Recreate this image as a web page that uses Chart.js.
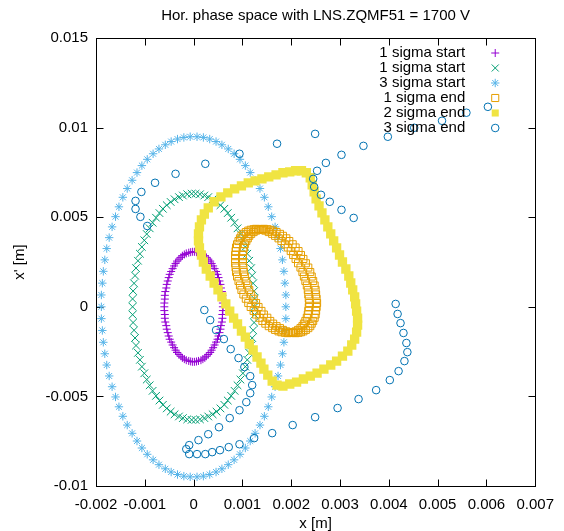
<!DOCTYPE html>
<html>
<head>
    <meta charset="utf-8">
    <title>Hor. phase space</title>
    <style>
        body { margin: 0; background: #fff; }
        #wrap { width: 564px; height: 531px; }
    </style>
</head>
<body>
    <div id="wrap"><canvas id="phaseChart" width="564" height="531"></canvas></div>
    <script src="https://cdn.jsdelivr.net/npm/chart.js"></script>
    <script>
        // start ellipses (x, x') for 1, 2 and 3 sigma
        const sigma1StartX = [0.0006, 0.0006, 0.00059, 0.00059, 0.00058, 0.00056, 0.00055, 0.00053, 0.00051, 0.00049, 0.00046, 0.00043, 0.0004, 0.00037, 0.00034, 0.0003, 0.00026, 0.00023, 0.00019, 0.00015, 0.0001, 0.00006, 0.00002,
            -0.00002, -0.00006, -0.0001, -0.00015, -0.00019, -0.00023, -0.00026, -0.0003, -0.00034, -0.00037, -0.0004, -0.00043, -0.00046, -0.00049, -0.00051, -0.00053, -0.00055, -0.00056, -0.00058, -0.00059, -0.00059, -0.0006,
            -0.0006,
            -0.0006, -0.00059, -0.00059, -0.00058, -0.00056, -0.00055, -0.00053, -0.00051, -0.00049, -0.00046, -0.00043, -0.0004, -0.00037, -0.00034, -0.0003, -0.00026, -0.00023, -0.00019, -0.00015, -0.0001, -0.00006, -0.00002,
            0.00002, 0.00006, 0.0001, 0.00015, 0.00019, 0.00023, 0.00026, 0.0003, 0.00034, 0.00037, 0.0004, 0.00043, 0.00046, 0.00049, 0.00051, 0.00053, 0.00055, 0.00056, 0.00058, 0.00059, 0.00059, 0.0006];
        const sigma1StartY = [0, 0.00021, 0.00043, 0.00064, 0.00085, 0.00105, 0.00125, 0.00144, 0.00163, 0.00181, 0.00197, 0.00213, 0.00228, 0.00242, 0.00255, 0.00266, 0.00276, 0.00285, 0.00292, 0.00298, 0.00302, 0.00305, 0.00307,
            0.00307, 0.00305, 0.00302, 0.00298, 0.00292, 0.00285, 0.00276, 0.00266, 0.00255, 0.00242, 0.00228, 0.00213, 0.00197, 0.00181, 0.00163, 0.00144, 0.00125, 0.00105, 0.00085, 0.00064, 0.00043, 0.00021,
            0,
            -0.00021, -0.00043, -0.00064, -0.00085, -0.00105, -0.00125, -0.00144, -0.00163, -0.00181, -0.00197, -0.00213, -0.00228, -0.00242, -0.00255, -0.00266, -0.00276, -0.00285, -0.00292, -0.00298, -0.00302, -0.00305, -0.00307,
            -0.00307, -0.00305, -0.00302, -0.00298, -0.00292, -0.00285, -0.00276, -0.00266, -0.00255, -0.00242, -0.00228, -0.00213, -0.00197, -0.00181, -0.00163, -0.00144, -0.00125, -0.00105, -0.00085, -0.00064, -0.00043, -0.00021];

        const sigma2StartX = [0.00125, 0.00125, 0.00124, 0.00122, 0.0012, 0.00118, 0.00114, 0.0011, 0.00106, 0.00101, 0.00096, 0.0009, 0.00084, 0.00077, 0.0007, 0.00063, 0.00055, 0.00047, 0.00039, 0.0003, 0.00022, 0.00013, 0.00004,
            -0.00004, -0.00013, -0.00022, -0.0003, -0.00039, -0.00047, -0.00055, -0.00063, -0.0007, -0.00077, -0.00084, -0.0009, -0.00096, -0.00101, -0.00106, -0.0011, -0.00114, -0.00118, -0.0012, -0.00122, -0.00124, -0.00125,
            -0.00125,
            -0.00125, -0.00124, -0.00122, -0.0012, -0.00118, -0.00114, -0.0011, -0.00106, -0.00101, -0.00096, -0.0009, -0.00084, -0.00077, -0.0007, -0.00063, -0.00055, -0.00047, -0.00039, -0.0003, -0.00022, -0.00013, -0.00004,
            0.00004, 0.00013, 0.00022, 0.0003, 0.00039, 0.00047, 0.00055, 0.00063, 0.0007, 0.00077, 0.00084, 0.0009, 0.00096, 0.00101, 0.00106, 0.0011, 0.00114, 0.00118, 0.0012, 0.00122, 0.00124, 0.00125];
        const sigma2StartY = [0, 0.00044, 0.00088, 0.00131, 0.00174, 0.00216, 0.00257, 0.00296, 0.00334, 0.00371, 0.00406, 0.00438, 0.00469, 0.00497, 0.00523, 0.00547, 0.00567, 0.00585, 0.006, 0.00612, 0.00621, 0.00628, 0.00631,
            0.00631, 0.00628, 0.00621, 0.00612, 0.006, 0.00585, 0.00567, 0.00547, 0.00523, 0.00497, 0.00469, 0.00438, 0.00406, 0.00371, 0.00334, 0.00296, 0.00257, 0.00216, 0.00174, 0.00131, 0.00088, 0.00044,
            0,
            -0.00044, -0.00088, -0.00131, -0.00174, -0.00216, -0.00257, -0.00296, -0.00334, -0.00371, -0.00406, -0.00438, -0.00469, -0.00497, -0.00523, -0.00547, -0.00567, -0.00585, -0.006, -0.00612, -0.00621, -0.00628, -0.00631,
            -0.00631, -0.00628, -0.00621, -0.00612, -0.006, -0.00585, -0.00567, -0.00547, -0.00523, -0.00497, -0.00469, -0.00438, -0.00406, -0.00371, -0.00334, -0.00296, -0.00257, -0.00216, -0.00174, -0.00131, -0.00088, -0.00044];

        const sigma3StartX = [0.00189, 0.00189, 0.00187, 0.00185, 0.00182, 0.00178, 0.00173, 0.00167, 0.0016, 0.00153, 0.00145, 0.00136, 0.00126, 0.00116, 0.00106, 0.00095, 0.00083, 0.00071, 0.00058, 0.00046, 0.00033, 0.0002, 0.00007,
            -0.00007, -0.0002, -0.00033, -0.00046, -0.00058, -0.00071, -0.00083, -0.00095, -0.00106, -0.00116, -0.00126, -0.00136, -0.00145, -0.00153, -0.0016, -0.00167, -0.00173, -0.00178, -0.00182, -0.00185, -0.00187, -0.00189,
            -0.00189,
            -0.00189, -0.00187, -0.00185, -0.00182, -0.00178, -0.00173, -0.00167, -0.0016, -0.00153, -0.00145, -0.00136, -0.00126, -0.00116, -0.00106, -0.00095, -0.00083, -0.00071, -0.00058, -0.00046, -0.00033, -0.0002, -0.00007,
            0.00007, 0.0002, 0.00033, 0.00046, 0.00058, 0.00071, 0.00083, 0.00095, 0.00106, 0.00116, 0.00126, 0.00136, 0.00145, 0.00153, 0.0016, 0.00167, 0.00173, 0.00178, 0.00182, 0.00185, 0.00187, 0.00189];
        const sigma3StartY = [0, 0.00066, 0.00132, 0.00198, 0.00262, 0.00325, 0.00386, 0.00446, 0.00503, 0.00558, 0.00611, 0.0066, 0.00706, 0.00749, 0.00788, 0.00823, 0.00854, 0.00881, 0.00904, 0.00922, 0.00936, 0.00945, 0.00949,
            0.00949, 0.00945, 0.00936, 0.00922, 0.00904, 0.00881, 0.00854, 0.00823, 0.00788, 0.00749, 0.00706, 0.0066, 0.00611, 0.00558, 0.00503, 0.00446, 0.00386, 0.00325, 0.00262, 0.00198, 0.00132, 0.00066,
            0,
            -0.00066, -0.00132, -0.00198, -0.00262, -0.00325, -0.00386, -0.00446, -0.00503, -0.00558, -0.00611, -0.0066, -0.00706, -0.00749, -0.00788, -0.00823, -0.00854, -0.00881, -0.00904, -0.00922, -0.00936, -0.00945, -0.00949,
            -0.00949, -0.00945, -0.00936, -0.00922, -0.00904, -0.00881, -0.00854, -0.00823, -0.00788, -0.00749, -0.00706, -0.0066, -0.00611, -0.00558, -0.00503, -0.00446, -0.00386, -0.00325, -0.00262, -0.00198, -0.00132, -0.00066];

        // end of the line, after LNS.ZQMF51
        // 1 sigma end is a band: two rings, slightly apart in x, same x'
        const sigma1EndXa = [0.00253, 0.00252, 0.00251, 0.0025, 0.00248, 0.00245, 0.00242, 0.00239, 0.00235, 0.0023, 0.00225, 0.0022, 0.00215, 0.00209, 0.00203, 0.00196, 0.0019, 0.00183, 0.00177,
            0.0017, 0.00163, 0.00157, 0.00151, 0.00144, 0.00139, 0.00133, 0.00128, 0.00123, 0.00118, 0.00114, 0.00111, 0.00108, 0.00105, 0.00103, 0.00102, 0.00101, 0.00101,
            0.00101, 0.00102, 0.00103, 0.00105, 0.00108, 0.00111, 0.00114, 0.00118, 0.00123, 0.00128, 0.00133, 0.00139, 0.00144, 0.00151, 0.00157, 0.00163, 0.0017, 0.00177,
            0.00183, 0.0019, 0.00196, 0.00203, 0.00209, 0.00215, 0.0022, 0.00225, 0.0023, 0.00235, 0.00239, 0.00242, 0.00245, 0.00248, 0.0025, 0.00251, 0.00252];
        const sigma1EndXb = [0.00237, 0.00236, 0.00235, 0.00234, 0.00232, 0.00229, 0.00226, 0.00223, 0.00219, 0.00214, 0.00209, 0.00204, 0.00199, 0.00193, 0.00187, 0.0018, 0.00174, 0.00167, 0.00161,
            0.00154, 0.00147, 0.00141, 0.00135, 0.00128, 0.00123, 0.00117, 0.00112, 0.00107, 0.00102, 0.00098, 0.00095, 0.00092, 0.00089, 0.00087, 0.00086, 0.00085, 0.00085,
            0.00085, 0.00086, 0.00087, 0.00089, 0.00092, 0.00095, 0.00098, 0.00102, 0.00107, 0.00112, 0.00117, 0.00123, 0.00128, 0.00135, 0.00141, 0.00147, 0.00154, 0.00161,
            0.00167, 0.00174, 0.0018, 0.00187, 0.00193, 0.00199, 0.00204, 0.00209, 0.00214, 0.00219, 0.00223, 0.00226, 0.00229, 0.00232, 0.00234, 0.00235, 0.00236];
        const sigma1EndY = [0.00021, 0.00045, 0.00069, 0.00094, 0.00119, 0.00144, 0.00169, 0.00194, 0.00219, 0.00243, 0.00267, 0.00289, 0.00311, 0.00331, 0.00349, 0.00367, 0.00382, 0.00396, 0.00407, 0.00417, 0.00425, 0.0043, 0.00433, 0.00435,
            0.00433, 0.0043, 0.00425, 0.00417, 0.00407, 0.00396, 0.00382, 0.00367, 0.00349, 0.00331, 0.00311, 0.00289, 0.00267, 0.00243, 0.00219, 0.00194, 0.00169, 0.00144,
            0.00119, 0.00094, 0.00069, 0.00045, 0.00021, -0.00001, -0.00023, -0.00043, -0.00061, -0.00079, -0.00094, -0.00108, -0.00119, -0.00129, -0.00137, -0.00142, -0.00145, -0.00147,
            -0.00145, -0.00142, -0.00137, -0.00129, -0.00119, -0.00108, -0.00094, -0.00079, -0.00061, -0.00043, -0.00023, -0.00001];

        const sigma2EndX = [0.0001, 0.00012, 0.00016, 0.00022, 0.0003, 0.00042, 0.00056, 0.0007, 0.00084, 0.00098, 0.00112, 0.00126, 0.0014, 0.00154, 0.00169, 0.00183, 0.00197, 0.00209, 0.00221, 0.00231,
            0.00239, 0.00243, 0.00247, 0.00251, 0.00257, 0.00263, 0.00269, 0.00275, 0.00281, 0.00287, 0.00293, 0.00299, 0.00305, 0.00312, 0.00318, 0.00322, 0.00326, 0.0033, 0.00332, 0.00334,
            0.00336, 0.00336, 0.00334, 0.0033, 0.00324, 0.00316, 0.00305, 0.00293, 0.00281, 0.00267, 0.00253, 0.00239, 0.00225, 0.00211, 0.00197, 0.00183, 0.00171, 0.00161, 0.00152, 0.00144,
            0.00138, 0.0013, 0.00122, 0.00114, 0.00106, 0.00098, 0.0009, 0.00082, 0.00074, 0.00066, 0.00058, 0.0005, 0.00042, 0.00034, 0.00026, 0.0002, 0.00016, 0.00012, 0.0001];
        const sigma2EndY = [0.00407, 0.00446, 0.00485, 0.00518, 0.00552, 0.00586, 0.00613, 0.00636, 0.00658, 0.00675, 0.00692, 0.00703, 0.00714, 0.00725, 0.00736, 0.00748, 0.00753, 0.00759, 0.00759, 0.00748,
            0.0072, 0.0068, 0.00641, 0.00602, 0.00563, 0.00524, 0.00485, 0.00446, 0.00407, 0.00368, 0.00329, 0.00289, 0.0025, 0.00211, 0.00172, 0.00133, 0.00094, 0.00055, 0.00016, -0.00024,
            -0.00063, -0.00102, -0.00141, -0.0018, -0.00213, -0.00247, -0.00275, -0.00303, -0.00325, -0.00348, -0.0037, -0.00387, -0.00403, -0.0042, -0.00431, -0.00443, -0.00437, -0.00415, -0.00381, -0.00348,
            -0.00314, -0.0028, -0.00241, -0.00208, -0.00169, -0.00135, -0.00096, -0.00063, -0.00024, 0.00016, 0.00055, 0.00094, 0.00133, 0.00172, 0.00211, 0.0025, 0.00289, 0.00329, 0.00368];

        const sigma3EndX = [-0.00095, -0.00109, -0.00119, -0.00119, -0.00107, -0.00079, -0.00037, 0.00024, 0.00094, 0.00171, 0.00249,
            0.00603, 0.00559, 0.00509, 0.00452, 0.00398, 0.00348, 0.00303, 0.00271, 0.00253, 0.00245, 0.00247, 0.00261, 0.00279, 0.00303, 0.00328,
            0.00414, 0.00418, 0.00424, 0.0043, 0.00436, 0.00438, 0.00432, 0.0042, 0.00402, 0.00374, 0.00338, 0.00295, 0.00249, 0.00203, 0.00161, 0.00124, 0.00094, 0.00072, 0.00054, 0.00038, 0.00024, 0.00007, -0.00009,
            -0.00015, -0.00009,
            0.0001, 0.0003, 0.00052, 0.00074, 0.00094, 0.00108, 0.00116, 0.0012, 0.00116, 0.00104, 0.00092, 0.00076, 0.00062, 0.00046, 0.00034, 0.00022];
        const sigma3EndY = [0.00451, 0.00502, 0.00546, 0.00591, 0.00641, 0.00692, 0.00742, 0.00798, 0.00854, 0.0091, 0.00965,
            0.01116, 0.01083, 0.01038, 0.00999, 0.00949, 0.00898, 0.00848, 0.00803, 0.00759, 0.00714, 0.00669, 0.00625, 0.00586, 0.00541, 0.00496,
            0.00016, -0.0004, -0.00091, -0.00146, -0.00202, -0.00253, -0.00303, -0.00359, -0.00409, -0.00465, -0.00515, -0.00565, -0.00616, -0.0066, -0.00705, -0.00733, -0.00767, -0.00783, -0.008, -0.00811, -0.00822, -0.00822, -0.00822,
            -0.00794, -0.00772,
            -0.00744, -0.00711, -0.00672, -0.00621, -0.00577, -0.00532, -0.00482, -0.00437, -0.00387, -0.00336, -0.00286, -0.00236, -0.0018, -0.0013, -0.00074, -0.00018];

        const seriesLabels = ['1 sigma start', '1 sigma start', '3 sigma start', '1 sigma end', '2 sigma end', '3 sigma end'];

        const xTicks = [-0.002, -0.001, 0, 0.001, 0.002, 0.003, 0.004, 0.005, 0.006, 0.007];
        const xTickLabels = ['-0.002', '-0.001', '0', '0.001', '0.002', '0.003', '0.004', '0.005', '0.006', '0.007'];
        const yTicks = [-0.01, -0.005, 0, 0.005, 0.01, 0.015];
        const yTickLabels = ['-0.01', '-0.005', '0', '0.005', '0.01', '0.015'];

        const toPoints = (xs, ys) => xs.map((x, i) => ({x: x, y: ys[i]}));

        const FONT = '"Liberation Sans", Arial, sans-serif';
        Chart.defaults.font.family = FONT;
        Chart.defaults.font.size = 15;
        Chart.defaults.color = '#000';

        // gnuplot-style symbol for each set
        const marks = [
            {color: '#9400d3', style: 'cross', radius: 4, fill: false},
            {color: '#009e73', style: 'crossRot', radius: 5.4, fill: false},
            {color: '#56b4e9', style: 'star', radius: 4.2, fill: false},
            {color: '#e69f00', style: 'rect', radius: 5, fill: false},
            {color: '#f0e442', style: 'rect', radius: 6.6, fill: true},
            {color: '#0072b2', style: 'circle', radius: 3.8, fill: false}
        ];
        const series = [
            toPoints(sigma1StartX, sigma1StartY),
            toPoints(sigma2StartX, sigma2StartY),
            toPoints(sigma3StartX, sigma3StartY),
            toPoints(sigma1EndXa, sigma1EndY).concat(toPoints(sigma1EndXb, sigma1EndY)),
            toPoints(sigma2EndX, sigma2EndY),
            toPoints(sigma3EndX, sigma3EndY)
        ];

        const datasets = series.map((pts, i) => ({
            label: seriesLabels[i],
            data: pts,
            showLine: false,
            pointStyle: marks[i].style,
            pointRadius: marks[i].radius,
            pointHoverRadius: marks[i].radius,
            pointBorderWidth: marks[i].fill ? 0 : 1,
            pointBorderColor: marks[i].color,
            pointBackgroundColor: marks[i].fill ? marks[i].color : 'rgba(0,0,0,0)',
            order: series.length - i
        }));

        // border with inward ticks on all four sides
        const framePlugin = {
            id: 'frame',
            beforeDatasetsDraw(chart) {
                const {ctx, chartArea, scales} = chart;
                const l = Math.round(chartArea.left) + 0.5, r = Math.round(chartArea.right) + 0.5;
                const t = Math.round(chartArea.top) + 0.5, b = Math.round(chartArea.bottom) + 0.5;
                const len = 7;
                ctx.save();
                ctx.strokeStyle = '#000';
                ctx.lineWidth = 1;
                ctx.beginPath();
                xTicks.forEach(v => {
                    const px = Math.round(scales.x.getPixelForValue(v)) + 0.5;
                    ctx.moveTo(px, b); ctx.lineTo(px, b - len);
                    ctx.moveTo(px, t); ctx.lineTo(px, t + len);
                });
                yTicks.forEach(v => {
                    const py = Math.round(scales.y.getPixelForValue(v)) + 0.5;
                    ctx.moveTo(l, py); ctx.lineTo(l + len, py);
                    ctx.moveTo(r, py); ctx.lineTo(r - len, py);
                });
                ctx.stroke();
                ctx.strokeRect(l, t, r - l, b - t);
                ctx.restore();
            }
        };

        // key in the upper right corner: text right-aligned, symbol after it
        const keyPlugin = {
            id: 'key',
            afterDatasetsDraw(chart) {
                const {ctx, chartArea} = chart;
                const drawPoint = Chart.helpers && Chart.helpers.drawPoint;
                ctx.save();
                ctx.font = '15px ' + FONT;
                ctx.textAlign = 'right';
                ctx.textBaseline = 'middle';
                chart.data.datasets.forEach((ds, i) => {
                    const y = chartArea.top + 15 + i * 15;
                    ctx.fillStyle = '#000';
                    ctx.fillText(ds.label, chartArea.right - 70, y);
                    if (drawPoint) {
                        ctx.fillStyle = ds.pointBackgroundColor;
                        ctx.strokeStyle = ds.pointBorderColor;
                        ctx.lineWidth = ds.pointBorderWidth;
                        const r = Math.min(ds.pointRadius, 5);
                        drawPoint(ctx, {pointStyle: ds.pointStyle, radius: r, borderWidth: ds.pointBorderWidth, rotation: 0}, chartArea.right - 40, y);
                    }
                });
                ctx.restore();
            }
        };

        new Chart(document.getElementById('phaseChart'), {
            type: 'scatter',
            data: { datasets: datasets },
            options: {
                responsive: false,
                animation: false,
                devicePixelRatio: 1,
                layout: { padding: { left: 0, right: 21, top: 0, bottom: 0 } },
                plugins: {
                    legend: { display: false },
                    tooltip: { enabled: false },
                    title: {
                        display: true,
                        text: 'Hor. phase space with LNS.ZQMF51 = 1700 V',
                        fullSize: false,
                        color: '#000',
                        font: { size: 15, weight: 'normal', family: FONT },
                        padding: { top: 7, bottom: 13 }
                    }
                },
                scales: {
                    x: {
                        type: 'linear',
                        min: -0.002,
                        max: 0.007,
                        afterBuildTicks: axis => { axis.ticks = xTicks.map(v => ({value: v})); },
                        afterFit: axis => { axis.height = 45; },
                        ticks: {
                            autoSkip: false,
                            maxRotation: 0,
                            padding: 10,
                            callback: v => xTickLabels[xTicks.indexOf(v)]
                        },
                        grid: { display: false, drawTicks: false },
                        border: { display: false },
                        title: {
                            display: true,
                            text: 'x [m]',
                            font: { size: 15, lineHeight: 1 },
                            padding: { top: 0, bottom: 0 }
                        }
                    },
                    y: {
                        type: 'linear',
                        min: -0.01,
                        max: 0.015,
                        afterBuildTicks: axis => { axis.ticks = yTicks.map(v => ({value: v})); },
                        afterFit: axis => { axis.width = 96; },
                        ticks: {
                            autoSkip: false,
                            padding: 8,
                            callback: v => yTickLabels[yTicks.indexOf(v)]
                        },
                        grid: { display: false, drawTicks: false },
                        border: { display: false },
                        title: {
                            display: true,
                            text: "x' [m]",
                            font: { size: 15, lineHeight: 1 },
                            padding: { top: 12, bottom: 0 }
                        }
                    }
                }
            },
            plugins: [framePlugin, keyPlugin]
        });
    </script>
</body>
</html>
